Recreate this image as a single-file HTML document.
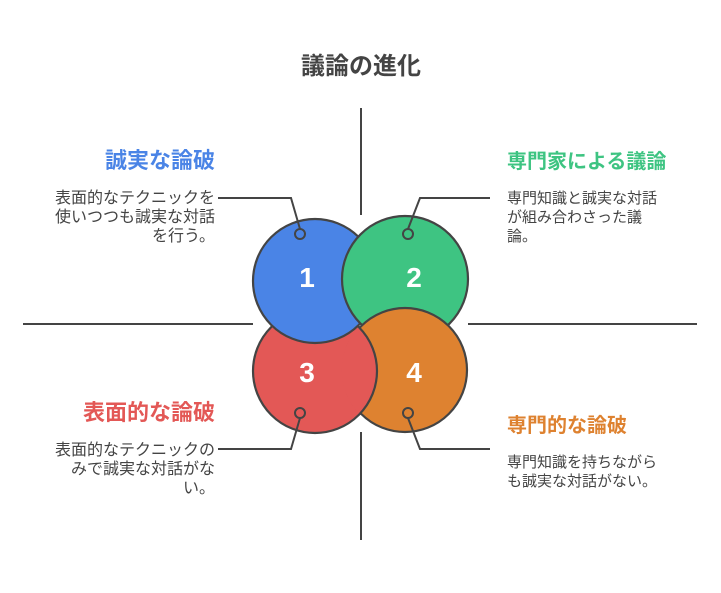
<!DOCTYPE html>
<html><head><meta charset="utf-8"><style>
body{margin:0;background:#fff;}
svg text{font-family:"Liberation Sans","Noto Sans CJK JP",sans-serif;}
</style></head><body>
<svg width="721" height="588" viewBox="0 0 721 588" xmlns="http://www.w3.org/2000/svg">
<defs><clipPath id="c4"><circle cx="405" cy="370" r="63.5"/></clipPath>
<clipPath id="c3"><circle cx="315" cy="371" r="63.5"/></clipPath></defs>
<text x="361" y="74" text-anchor="middle" font-size="24" font-weight="bold" fill="#444">議論の進化</text>
<g stroke="#444" stroke-width="2" fill="none">
<line x1="361" y1="108" x2="361" y2="215"/>
<line x1="361" y1="432" x2="361" y2="540"/>
<line x1="23" y1="324" x2="253" y2="324"/>
<line x1="468" y1="324" x2="697" y2="324"/>
</g>
<g stroke="#444" stroke-width="2.2">
<circle cx="315" cy="371" r="62" fill="#e35856"/>
<circle cx="315" cy="281" r="62" fill="#4a84e6"/>
<circle cx="405" cy="279" r="63" fill="#3ec482"/>
<circle cx="405" cy="370" r="62" fill="#de8230"/>
<g clip-path="url(#c4)">
<circle cx="315" cy="371" r="62" fill="#e35856"/>
<g clip-path="url(#c3)"><circle cx="315" cy="281" r="62" fill="#4a84e6"/></g>
</g>
</g>
<g fill="#fff" font-size="28" font-weight="bold" text-anchor="middle">
<text x="307" y="287">1</text><text x="414" y="287">2</text>
<text x="307" y="382">3</text><text x="414" y="382">4</text>
</g>
<g stroke="#444" stroke-width="2" fill="none">
<polyline points="300,229 291,198 218,198"/>
<polyline points="408,229 420,198 490,198"/>
<polyline points="300,418 291,449 218,449"/>
<polyline points="408,418 420,449 490,449"/>
<circle cx="300" cy="234" r="5"/><circle cx="408" cy="234" r="5"/>
<circle cx="300" cy="413" r="5"/><circle cx="408" cy="413" r="5"/>
</g>
<g font-size="22" font-weight="bold">
<text x="215" y="168" text-anchor="end" fill="#4a84e6">誠実な論破</text>
<text x="215" y="420" text-anchor="end" fill="#e35856">表面的な論破</text>
</g>
<g font-size="20" font-weight="bold">
<text x="507" y="168" fill="#3ec482">専門家による議論</text>
<text x="507" y="432" fill="#de8230">専門的な論破</text>
</g>
<g font-size="15" fill="#444">
<g text-anchor="end" font-size="16">
<text x="215" y="203">表面的なテクニックを</text>
<text x="215" y="222">使いつつも誠実な対話</text>
<text x="215" y="241">を行う。</text>
<text x="215" y="455">表面的なテクニックの</text>
<text x="215" y="474">みで誠実な対話がな</text>
<text x="215" y="493">い。</text>
</g>
<text x="507" y="203">専門知識と誠実な対話</text>
<text x="507" y="222">が組み合わさった議</text>
<text x="507" y="241">論。</text>
<text x="507" y="467">専門知識を持ちながら</text>
<text x="507" y="486">も誠実な対話がない。</text>
</g>
</svg>
</body></html>
